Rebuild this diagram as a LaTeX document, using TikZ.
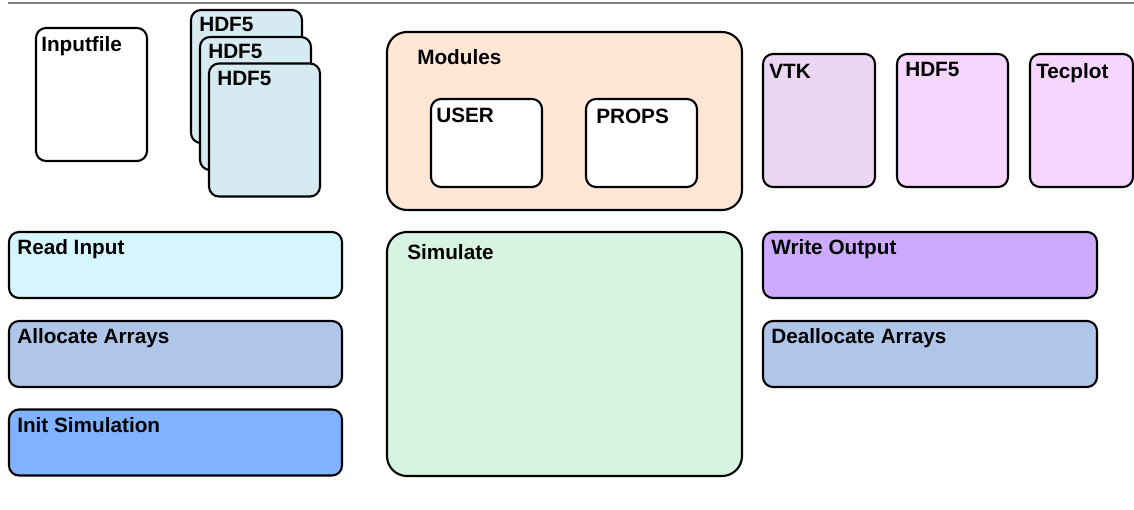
\documentclass[tikz,border=0pt]{standalone}
\usepackage{fontspec}
\setmainfont{Liberation Sans}
\usepackage{tikz}
\usetikzlibrary{positioning,calc}
\definecolor{cfile}{HTML}{D6EBF1}
\definecolor{cmod}{HTML}{FFE6D5}
\definecolor{cvtk}{HTML}{EBD7F1}
\definecolor{cout}{HTML}{F6D5FF}
\definecolor{cread}{HTML}{D5F6FF}
\definecolor{calloc}{HTML}{AFC6E9}
\definecolor{cinit}{HTML}{80B3FF}
\definecolor{csim}{HTML}{D7F4E3}
\definecolor{cwrite}{HTML}{CCAAFF}

\begin{document}
\begin{tikzpicture}[
  font=\fontsize{11.8}{14}\selectfont\bfseries,
  box/.style={draw, line width=1.2pt, rounded corners=0.2cm, inner sep=0pt},
  doc/.style={box, minimum width=2.22cm, minimum height=2.66cm},
  stage/.style={box, minimum width=6.66cm, minimum height=1.32cm},
  big/.style={box, rounded corners=0.4cm, minimum width=7.1cm},
  hd/.style={anchor=base west, inner sep=0pt},
]
\useasboundingbox (0,0) rectangle (22.68,-10.18);
\draw[line width=1.1pt, gray] (0.16,-0.06) -- (22.68,-0.06);

% ---------- input files ----------
\node[doc, fill=white] (inp) at (1.83,-1.89) {};
\node[hd] (tinp) at ($(inp.north west)+(0.12,-0.5)$) {Inputfile};
\node[doc, fill=cfile] (hA) at (4.93,-1.53) {};
\node[hd] (thA) at ($(hA.north west)+(0.18,-0.46)$) {HDF5};
\node[doc, fill=cfile] (hB) at (5.11,-2.07) {};
\node[hd] (thB) at ($(hB.north west)+(0.18,-0.46)$) {HDF5};
\node[doc, fill=cfile] (hC) at (5.29,-2.60) {};
\node[hd] (thC) at ($(hC.north west)+(0.18,-0.46)$) {HDF5};

% ---------- modules ----------
\node[big, fill=cmod, minimum height=3.56cm] (mods) at (11.29,-2.42) {};
\node[hd] (tmods) at ($(mods.north west)+(0.62,-0.68)$) {Modules};
\node[box, fill=white, minimum width=2.22cm, minimum height=1.76cm] (user) at (9.73,-2.86) {};
\node[hd] (tuser) at ($(user.north west)+(0.12,-0.5)$) {USER};
\node[box, fill=white, minimum width=2.22cm, minimum height=1.76cm] (props) at (12.83,-2.86) {};
\node[hd] (tprops) at ($(props.north west)+(0.22,-0.52)$) {PROPS};

% ---------- output formats ----------
\node[doc, fill=cvtk, minimum width=2.24cm] (vtk) at (16.38,-2.41) {};
\node[hd] (tvtk) at ($(vtk.north west)+(0.14,-0.52)$) {VTK};
\node[doc, fill=cout] (hout) at (19.05,-2.41) {};
\node[hd] (thout) at ($(hout.north west)+(0.18,-0.48)$) {HDF5};
\node[doc, fill=cout, minimum width=2.06cm] (tec) at (21.63,-2.41) {};
\node[hd] (ttec) at ($(tec.north west)+(0.14,-0.52)$) {Tecplot};

% ---------- program stages ----------
\node[stage, fill=cread] (read) at (3.51,-5.30) {};
\node[hd] (tread) at ($(read.north west)+(0.18,-0.48)$) {Read Input};
\node[stage, fill=calloc] (alloc) at (3.51,-7.08) {};
\node[hd] (talloc) at ($(alloc.north west)+(0.18,-0.48)$) {Allocate Arrays};
\node[stage, fill=cinit] (init) at (3.51,-8.85) {};
\node[hd] (tinit) at ($(init.north west)+(0.18,-0.48)$) {Init Simulation};

\node[big, fill=csim, minimum height=4.88cm] (sim) at (11.29,-7.08) {};
\node[hd] (tsim) at ($(sim.north west)+(0.42,-0.58)$) {Simulate};

\node[stage, fill=cwrite, minimum width=6.68cm] (write) at (18.60,-5.30) {};
\node[hd] (twrite) at ($(write.north west)+(0.18,-0.48)$) {Write Output};
\node[stage, fill=calloc, minimum width=6.68cm] (dealloc) at (18.60,-7.08) {};
\node[hd] (tdealloc) at ($(dealloc.north west)+(0.18,-0.48)$) {Deallocate Arrays};
\end{tikzpicture}
\end{document}
